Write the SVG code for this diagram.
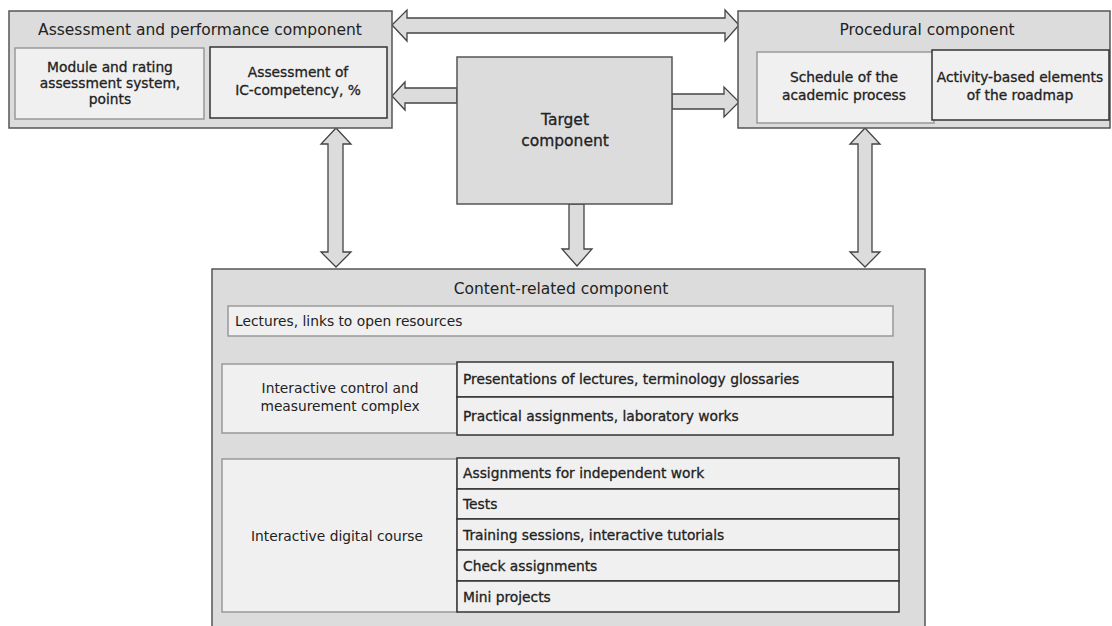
<svg xmlns="http://www.w3.org/2000/svg" width="1112" height="626" viewBox="0 0 1112 626">
<style>
  .outer { fill: #dcdcdc; stroke: #555; stroke-width: 1.5; }
  .inL { fill: #f0f0f0; stroke: #999; stroke-width: 1.5; }
  .inD { fill: #f0f0f0; stroke: #333; stroke-width: 1.5; }
  .arrow { fill: #dcdcdc; stroke: #444; stroke-width: 1.3; stroke-linejoin: miter; }
  text { font-family: "DejaVu Sans", "Liberation Sans", sans-serif; fill: #222; }
  .title { font-size: 15.5px; }
  .t { font-size: 13.8px; }
  .b { stroke: #222; stroke-width: 0.3; }
  .c { text-anchor: middle; }
</style>
<rect width="1112" height="626" fill="#ffffff"/>

<g id="connectors">
  <polygon class="arrow" points="392,25 407,10 407,18 725,18 725,10 739,25 725,41 725,33 407,33 407,41"/>
  <polygon class="arrow" points="457,88 405,88 405,82 392,96 405,110 405,103 457,103"/>
  <polygon class="arrow" points="672,94 724,94 724,87 739,102 724,117 724,109 672,109"/>
  <polygon class="arrow" points="569,204 569,249 562,249 577,266 592,249 584,249 584,204"/>
  <polygon class="arrow" points="336,128 351,144 343,144 343,252 351,252 336,267 321,252 328,252 328,144 321,144"/>
  <polygon class="arrow" points="865,128 880,144 872,144 872,252 880,252 865,267 850,252 858,252 858,144 850,144"/>
</g>

<g id="assessment">
  <rect class="outer" x="9" y="11" width="383" height="117"/>
  <text class="title c" x="200" y="35">Assessment and performance component</text>
  <g id="module-rating">
    <rect class="inL" x="15" y="48" width="189" height="71"/>
    <text class="t c b" x="110" y="72">Module and rating</text>
    <text class="t c b" x="110" y="88">assessment system,</text>
    <text class="t c b" x="110" y="104">points</text>
  </g>
  <g id="ic-competency">
    <rect class="inD" x="210" y="47" width="177" height="71"/>
    <text class="t c b" x="298" y="77">Assessment of</text>
    <text class="t c b" x="298" y="95">IC-competency, %</text>
  </g>
</g>

<g id="procedural">
  <rect class="outer" x="738" y="11" width="372" height="117"/>
  <text class="title c" x="927" y="35">Procedural component</text>
  <g id="schedule">
    <rect class="inL" x="757" y="52" width="177" height="71"/>
    <text class="t c b" x="844" y="82">Schedule of the</text>
    <text class="t c b" x="844" y="100">academic process</text>
  </g>
  <g id="activity">
    <rect class="inD" x="932" y="50" width="177" height="70"/>
    <text class="t c b" x="1020" y="82">Activity-based elements</text>
    <text class="t c b" x="1020" y="100">of the roadmap</text>
  </g>
</g>

<g id="target">
  <rect class="outer" x="457" y="57" width="215" height="147"/>
  <text class="title c b" x="565" y="125">Target</text>
  <text class="title c b" x="565" y="146">component</text>
</g>

<g id="content">
  <rect class="outer" x="212" y="269" width="713" height="400"/>
  <text class="title c" x="561" y="294">Content-related component</text>
  <g id="lectures">
    <rect class="inL" x="228" y="306" width="665" height="30"/>
    <text class="t" x="235" y="326">Lectures, links to open resources</text>
  </g>
  <g id="icmc">
    <rect class="inL" x="222" y="364" width="235" height="69"/>
    <text class="t c" x="340" y="393">Interactive control and</text>
    <text class="t c" x="340" y="411">measurement complex</text>
    <rect class="inD" x="457" y="362" width="436" height="35"/>
    <text class="t b" x="463" y="384">Presentations of lectures, terminology glossaries</text>
    <rect class="inD" x="457" y="397" width="436" height="38"/>
    <text class="t b" x="463" y="421">Practical assignments, laboratory works</text>
  </g>
  <g id="idc">
    <rect class="inL" x="222" y="459" width="235" height="153"/>
    <text class="t c" x="337" y="541">Interactive digital course</text>
    <rect class="inD" x="457" y="458" width="442" height="31"/>
    <text class="t b" x="463" y="478">Assignments for independent work</text>
    <rect class="inD" x="457" y="489" width="442" height="30"/>
    <text class="t b" x="463" y="509">Tests</text>
    <rect class="inD" x="457" y="519" width="442" height="31"/>
    <text class="t b" x="463" y="540">Training sessions, interactive tutorials</text>
    <rect class="inD" x="457" y="550" width="442" height="31"/>
    <text class="t b" x="463" y="571">Check assignments</text>
    <rect class="inD" x="457" y="581" width="442" height="31"/>
    <text class="t b" x="463" y="602">Mini projects</text>
  </g>
</g>
</svg>
